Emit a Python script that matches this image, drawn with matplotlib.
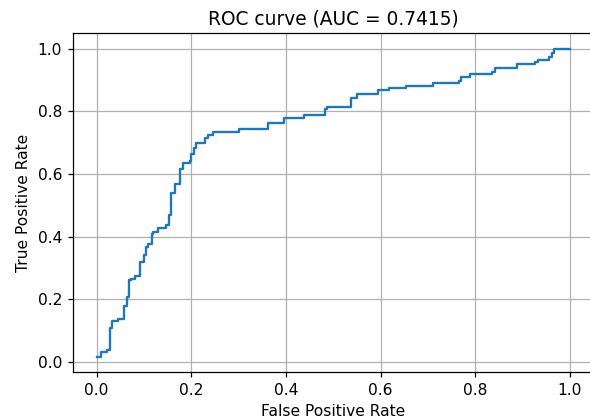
import matplotlib
matplotlib.use("Agg")
import matplotlib.pyplot as plt

# --- ROC points (fpr where tpr jumps, tpr after jump) ---
fpr = [0.0, 0.010, 0.021, 0.028, 0.033, 0.045, 0.058, 0.064, 0.068, 0.073,
       0.080, 0.092, 0.100, 0.105, 0.108, 0.117, 0.120, 0.130, 0.147, 0.153,
       0.158, 0.165, 0.176, 0.183, 0.197, 0.200, 0.205, 0.211, 0.230, 0.236,
       0.246, 0.301, 0.362, 0.396, 0.439, 0.482, 0.487, 0.538, 0.550, 0.595,
       0.617, 0.653, 0.711, 0.766, 0.770, 0.789, 0.836, 0.841, 0.889, 0.926,
       0.933, 0.956, 0.962, 0.967, 1.0]
tpr = [0.016, 0.030, 0.037, 0.107, 0.130, 0.136, 0.178, 0.207, 0.260, 0.265,
       0.273, 0.319, 0.340, 0.366, 0.377, 0.408, 0.413, 0.427, 0.438, 0.470,
       0.540, 0.567, 0.616, 0.635, 0.643, 0.664, 0.683, 0.700, 0.716, 0.724,
       0.735, 0.745, 0.764, 0.778, 0.790, 0.808, 0.815, 0.843, 0.856, 0.867,
       0.875, 0.880, 0.891, 0.898, 0.910, 0.918, 0.926, 0.939, 0.950, 0.958,
       0.964, 0.975, 0.988, 1.0, 1.0]
auc = 0.7415

# reference looks rendered at ~112 dpi (text and ticks a bit bigger than at 100)
dpi = 112
fig = plt.figure(figsize=(590 / dpi, 418 / dpi), dpi=dpi)
# axes run slightly past the right edge, as in the reference crop
fig.subplots_adjust(left=0.1237, right=1.006, bottom=0.110, top=0.920)
plt.plot(fpr, tpr, drawstyle="steps-post", color="C0")
plt.xlabel("False Positive Rate")
plt.ylabel("True Positive Rate")
plt.title(f"ROC curve (AUC = {auc:.4f})")
plt.grid(True)
plt.savefig("out.png", dpi=dpi)
